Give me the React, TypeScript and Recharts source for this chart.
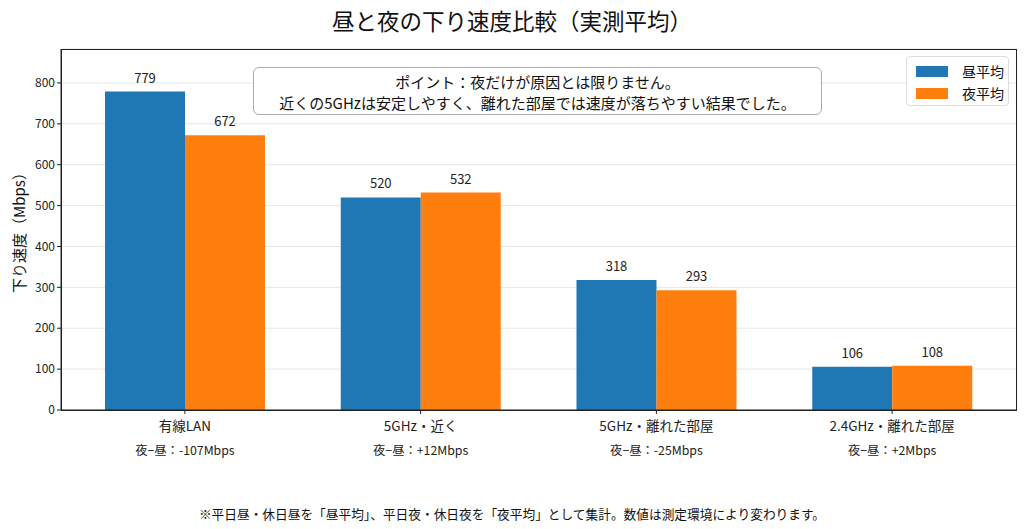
import React from "react";
import { BarChart, Bar, XAxis, YAxis, CartesianGrid, LabelList } from "recharts";

// ── data ──────────────────────────────────────────────────────────────────────

const categories = ["有線LAN", "5GHz・近く", "5GHz・離れた部屋", "2.4GHz・離れた部屋"];
const dayAvg = [779, 520, 318, 106];
const nightAvg = [672, 532, 293, 108];
const diffLabels = ["夜−昼：-107Mbps", "夜−昼：+12Mbps", "夜−昼：-25Mbps", "夜−昼：+2Mbps"];
const yTicks = [0, 100, 200, 300, 400, 500, 600, 700, 800];

const FONT = '"Noto Sans CJK JP", "Noto Sans", sans-serif';
const BLUE = "#1f77b4";
const ORANGE = "#ff7f0e";

const chartData = categories.map((c, i) => ({
  name: c,
  day: dayAvg[i],
  night: nightAvg[i],
}));

// ── custom x tick (category + diff line) ─────────────────────────────────────

function CategoryTick(props: any) {
  const { x, y, payload, index } = props;
  return (
    <g transform={`translate(${x},${y})`}>
      <text x={0} y={0} dy={15} textAnchor="middle" fontSize={13.5} fill="#222" fontFamily={FONT}>
        {payload.value}
      </text>
      <text x={0} y={0} dy={39} textAnchor="middle" fontSize={12.3} fill="#222" fontFamily={FONT}>
        {diffLabels[index]}
      </text>
    </g>
  );
}

export default function App() {
  return (
    <div
      style={{
        position: "absolute",
        left: 0,
        top: 0,
        width: 1024,
        height: 529,
        background: "#fff",
        fontFamily: FONT,
      }}
    >
      <BarChart
        width={1024}
        height={529}
        data={chartData}
        margin={{ top: 49, right: 8, left: 0, bottom: 59 }}
        barGap={0}
        barSize={80}
      >
        <CartesianGrid vertical={false} stroke="#e6e6e6" />
        <XAxis
          dataKey="name"
          interval={0}
          height={60}
          padding={{ left: 6, right: 6 }}
          axisLine={{ stroke: "#222" }}
          tickLine={{ stroke: "#222" }}
          tickSize={4}
          tick={<CategoryTick />}
        />
        <YAxis
          domain={[0, 883]}
          ticks={yTicks}
          interval={0}
          width={61}
          axisLine={{ stroke: "#222" }}
          tickLine={{ stroke: "#222" }}
          tickSize={4}
          tick={{ fontSize: 12, fill: "#222", fontFamily: FONT }}
        />
        <Bar dataKey="day" name="昼平均" fill={BLUE} isAnimationActive={false}>
          <LabelList dataKey="day" position="top" offset={9} style={{ fontSize: 13, fill: "#222", fontFamily: FONT }} />
        </Bar>
        <Bar dataKey="night" name="夜平均" fill={ORANGE} isAnimationActive={false}>
          <LabelList dataKey="night" position="top" offset={9} style={{ fontSize: 13, fill: "#222", fontFamily: FONT }} />
        </Bar>
      </BarChart>

      {/* plot frame */}
      <div
        style={{
          position: "absolute",
          left: 61,
          top: 49,
          width: 956,
          height: 362,
          boxSizing: "border-box",
          border: "1px solid #222",
          pointerEvents: "none",
        }}
      />

      {/* y axis label */}
      <div
        style={{
          position: "absolute",
          left: 18,
          top: 229,
          transform: "translate(-50%, -50%) rotate(-90deg)",
          whiteSpace: "nowrap",
          fontSize: 15,
          color: "#111",
        }}
      >
        下り速度（Mbps）
      </div>

      {/* title */}
      <div
        style={{
          position: "absolute",
          top: 4,
          left: 0,
          width: 1024,
          textAlign: "center",
          fontSize: 22.5,
          color: "#111",
        }}
      >
        昼と夜の下り速度比較（実測平均）
      </div>

      {/* note box */}
      <div
        style={{
          position: "absolute",
          left: 253,
          top: 67,
          width: 569,
          height: 48,
          boxSizing: "border-box",
          border: "1px solid #aaa",
          borderRadius: 6,
          background: "#fff",
          textAlign: "center",
          fontSize: 15,
          lineHeight: "21px",
          paddingTop: 3,
          color: "#111",
        }}
      >
        ポイント：夜だけが原因とは限りません。
        <br />
        近くの5GHzは安定しやすく、離れた部屋では速度が落ちやすい結果でした。
      </div>

      {/* legend */}
      <div
        style={{
          position: "absolute",
          left: 906,
          top: 56,
          width: 103,
          height: 50,
          boxSizing: "border-box",
          border: "1px solid #ddd",
          borderRadius: 4,
          background: "#fff",
          fontSize: 14,
          color: "#111",
        }}
      >
        {[
          { label: "昼平均", color: BLUE },
          { label: "夜平均", color: ORANGE },
        ].map((it, i) => (
          <div key={it.label} style={{ position: "absolute", left: 9, top: 4 + i * 22, display: "flex", alignItems: "center" }}>
            <span style={{ display: "inline-block", width: 32, height: 11, background: it.color, marginRight: 14 }} />
            <span style={{ lineHeight: "20px" }}>{it.label}</span>
          </div>
        ))}
      </div>

      {/* footnote */}
      <div
        style={{
          position: "absolute",
          top: 504,
          left: 0,
          width: 1024,
          textAlign: "center",
          fontSize: 12.7,
          color: "#111",
        }}
      >
        ※平日昼・休日昼を「昼平均」、平日夜・休日夜を「夜平均」として集計。数値は測定環境により変わります。
      </div>
    </div>
  );
}
